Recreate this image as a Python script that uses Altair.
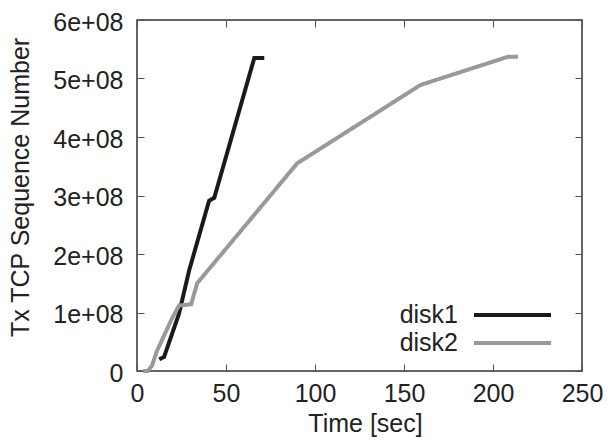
import altair as alt
import pandas as pd

# Data
disk1_time = [12.5, 15.2, 23.6, 29.3, 40.5, 43.4, 65.9, 71.5]
disk1_seq = [0.20e8, 0.24e8, 0.98e8, 1.72e8, 2.91e8, 2.96e8, 5.35e8, 5.35e8]

disk2_time = [3.5, 6.0, 8.4, 11.3, 19.7, 23.6, 30.4, 33.8, 90.0, 159.3, 208.3, 214.0]
disk2_seq = [0.0, 0.0, 0.09e8, 0.35e8, 0.90e8, 1.12e8, 1.14e8, 1.50e8, 3.55e8, 4.89e8, 5.37e8, 5.37e8]

series_names = ["disk1", "disk2"]
series_colors = ["#1a1a1a", "#999999"]
x_ticks = [0, 50, 100, 150, 200, 250]
y_ticks = [0, 1e8, 2e8, 3e8, 4e8, 5e8, 6e8]

df = pd.concat([
    pd.DataFrame({"t": disk1_time, "seq": disk1_seq, "disk": "disk1", "i": range(len(disk1_time))}),
    pd.DataFrame({"t": disk2_time, "seq": disk2_seq, "disk": "disk2", "i": range(len(disk2_time))}),
], ignore_index=True)
df["name"] = df["disk"]  # copy used for the text-only legend (placed left of the line keys)

FONT = "Liberation Sans"
TXT = "#222222"
xs = alt.Scale(domain=[0, 250], nice=False, zero=False)
ys = alt.Scale(domain=[0, 6e8], nice=False)

base = alt.Chart(df)

lines = base.mark_line(strokeWidth=4).encode(
    x=alt.X("t:Q", scale=xs, axis=alt.Axis(
        orient="bottom", values=x_ticks, ticks=False, tickSize=0, domain=False, grid=False,
        labelPadding=10, labelFlush=False, format="d",
        labelFont=FONT, labelFontSize=25, labelColor=TXT,
        title="Time [sec]", titleX=228, titleY=60, titleBaseline="alphabetic",
        titleFont=FONT, titleFontSize=25, titleFontWeight="normal", titleColor=TXT)),
    y=alt.Y("seq:Q", scale=ys, axis=alt.Axis(
        orient="left", values=y_ticks, ticks=False, tickSize=0, domain=False, grid=False,
        labelPadding=14, labelFlush=False, labelOffset=2,
        labelFont=FONT, labelFontSize=25, labelColor=TXT,
        labelExpr="datum.value == 0 ? '0' : round(datum.value / 1e8) + 'e+08'",
        title="Tx TCP Sequence Number", titleX=-109, titleY=167, titleBaseline="alphabetic",
        titleFont=FONT, titleFontSize=25, titleFontWeight="normal", titleColor=TXT)),
    # line keys only (labels blank)
    color=alt.Color("disk:N", scale=alt.Scale(domain=series_names, range=series_colors),
                    legend=alt.Legend(
                        orient="none", legendX=335, legendY=281, title=None,
                        symbolType="stroke", symbolSize=77 * 77, symbolStrokeWidth=4,
                        clipHeight=28, rowPadding=0, padding=0,
                        labelExpr="''", labelFontSize=25, labelFont=FONT)),
    # label texts only (symbols hidden), right-aligned left of the keys
    strokeDash=alt.StrokeDash("name:N", scale=alt.Scale(range=[[1, 0], [1, 0]]),
                              legend=alt.Legend(
                                  orient="none", legendX=296, legendY=281, title=None,
                                  symbolType="stroke", symbolSize=1, symbolStrokeWidth=0,
                                  symbolOpacity=0, clipHeight=28, rowPadding=0, padding=0,
                                  labelAlign="right", labelOffset=0, labelBaseline="middle",
                                  labelFontSize=25, labelFont=FONT, labelColor=TXT, labelLimit=0)),
    order="i:Q",
)

tick_axis = dict(labels=False, domain=False, ticks=True, tickSize=7, grid=False,
                 title=None, offset=-7, tickColor="#555555", tickWidth=1)

ticks_bl = base.mark_line(opacity=0).encode(
    x=alt.X("t:Q", scale=xs, axis=alt.Axis(orient="bottom", values=x_ticks, **tick_axis)),
    y=alt.Y("seq:Q", scale=ys, axis=alt.Axis(orient="left", values=y_ticks, **tick_axis)),
    detail="disk:N",
)
ticks_tr = base.mark_line(opacity=0).encode(
    x=alt.X("t:Q", scale=xs, axis=alt.Axis(orient="top", values=x_ticks, **tick_axis)),
    y=alt.Y("seq:Q", scale=ys, axis=alt.Axis(orient="right", values=y_ticks, **tick_axis)),
    detail="disk:N",
)

chart = alt.layer(lines, ticks_bl, ticks_tr).resolve_axis(
    x="independent", y="independent"
).properties(
    width=445, height=351, background="white",
    padding={"left": 137, "top": 20, "right": 26, "bottom": 69},
    autosize=alt.AutoSizeParams(type="none"),
).configure_view(
    stroke="#333333", strokeWidth=1.5
)

chart.save("out.html", embed_options={"renderer": "svg", "actions": False})
